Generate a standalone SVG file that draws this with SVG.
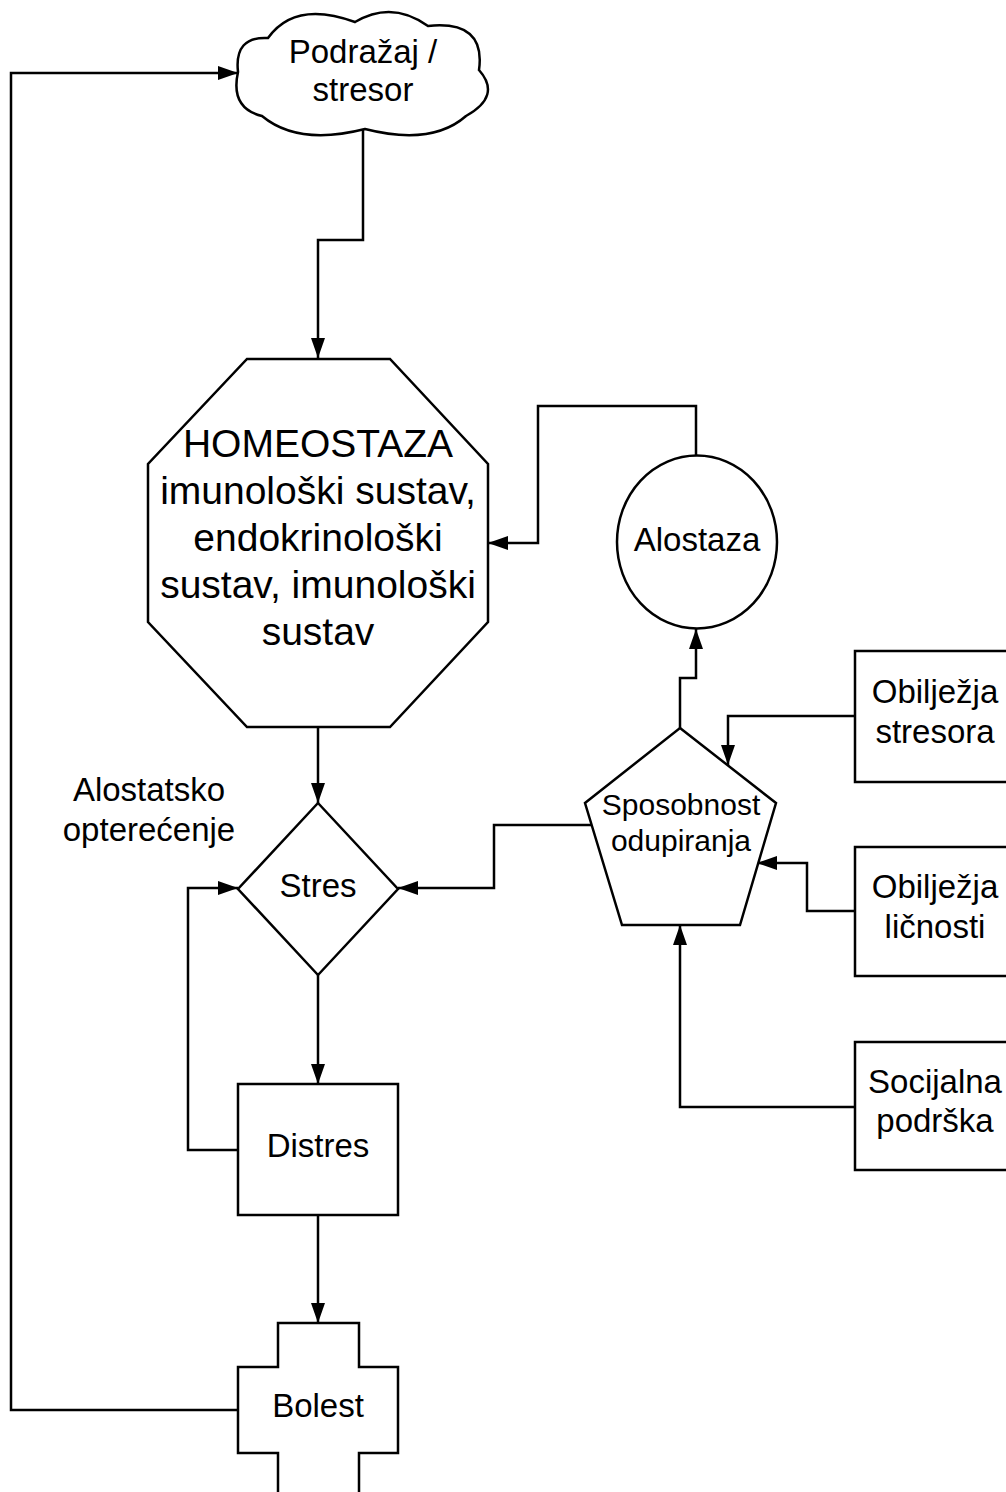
<svg xmlns="http://www.w3.org/2000/svg" width="1006" height="1492" viewBox="0 0 1006 1492">
<defs>
<style>
.shape{fill:#fff;stroke:#000;stroke-width:2.5;stroke-linejoin:miter}
.edge{fill:none;stroke:#000;stroke-width:2.5}
.t{font-family:"Liberation Sans",Arial,sans-serif;font-size:33px;fill:#000;text-anchor:middle}
.big{font-size:39px}
.mid{font-size:30px}
</style>
<marker id="arr" markerUnits="userSpaceOnUse" markerWidth="20" markerHeight="14" refX="20" refY="7" orient="auto">
<path d="M0,0 L20,7 L0,14 z" fill="#000"/>
</marker>
</defs>
<rect width="1006" height="1492" fill="#fff"/>
<g id="connectors">
<path class="edge" marker-end="url(#arr)" d="M363,128 V240 H318 V358"/>
<path class="edge" marker-end="url(#arr)" d="M696,456 V406 H538 V543 H488"/>
<path class="edge" marker-end="url(#arr)" d="M680,728 V678 H696 V629"/>
<path class="edge" marker-end="url(#arr)" d="M855,716 H728 V765"/>
<path class="edge" marker-end="url(#arr)" d="M855,911 H807 V863 H757"/>
<path class="edge" marker-end="url(#arr)" d="M855,1107 H680 V925"/>
<path class="edge" marker-end="url(#arr)" d="M591,825 H494 V888 H398"/>
<path class="edge" marker-end="url(#arr)" d="M318,727 V803"/>
<path class="edge" marker-end="url(#arr)" d="M318,975 V1084"/>
<path class="edge" marker-end="url(#arr)" d="M238,1150 H188 V888 H238"/>
<path class="edge" marker-end="url(#arr)" d="M318,1215 V1323"/>
<path class="edge" marker-end="url(#arr)" d="M238,1410 H11 V73 H238"/>
</g>
<g id="podrazaj">
<path class="shape" d="M238,72 Q234,36 268,38 Q295,0 355,22 Q392,0 428,26 Q486,20 479,70 Q502,96 466,116 Q432,146 365,129 Q298,146 262,116 Q230,108 238,72 Z"/>
<text class="t" x="363" y="63">Podražaj /</text>
<text class="t" x="363" y="101">stresor</text>
</g>
<g id="homeostaza">
<polygon class="shape" points="247,359 390,359 488,464 488,622 390,727 247,727 148,622 148,464"/>
<text class="t big" x="318" y="457">HOMEOSTAZA</text>
<text class="t big" x="318" y="504">imunološki sustav,</text>
<text class="t big" x="318" y="551">endokrinološki</text>
<text class="t big" x="318" y="598">sustav, imunološki</text>
<text class="t big" x="318" y="645">sustav</text>
</g>
<g id="alostaza">
<ellipse class="shape" cx="697" cy="542" rx="80" ry="86.5"/>
<text class="t" x="697" y="551">Alostaza</text>
</g>
<g id="sposobnost">
<polygon class="shape" points="680,728 776,803 740,925 622,925 585,803"/>
<text class="t mid" x="681" y="815">Sposobnost</text>
<text class="t mid" x="681" y="851">odupiranja</text>
</g>
<g id="obiljezja-stresora">
<rect class="shape" x="855" y="651" width="160" height="131"/>
<text class="t" x="935" y="703">Obilježja</text>
<text class="t" x="935" y="743">stresora</text>
</g>
<g id="obiljezja-licnosti">
<rect class="shape" x="855" y="847" width="160" height="129"/>
<text class="t" x="935" y="898">Obilježja</text>
<text class="t" x="935" y="938">ličnosti</text>
</g>
<g id="socijalna-podrska">
<rect class="shape" x="855" y="1042" width="160" height="128"/>
<text class="t" x="935" y="1093">Socijalna</text>
<text class="t" x="935" y="1132">podrška</text>
</g>
<g id="alostatsko-label">
<text class="t" x="149" y="801">Alostatsko</text>
<text class="t" x="149" y="841">opterećenje</text>
</g>
<g id="stres">
<polygon class="shape" points="318,803 398,889 318,975 238,889"/>
<text class="t" x="318" y="897">Stres</text>
</g>
<g id="distres">
<rect class="shape" x="238" y="1084" width="160" height="131"/>
<text class="t" x="318" y="1157">Distres</text>
</g>
<g id="bolest">
<path class="shape" d="M278,1323 H359 V1367 H398 V1453 H359 V1500 H278 V1453 H238 V1367 H278 Z"/>
<text class="t" x="318" y="1417">Bolest</text>
</g>
</svg>
